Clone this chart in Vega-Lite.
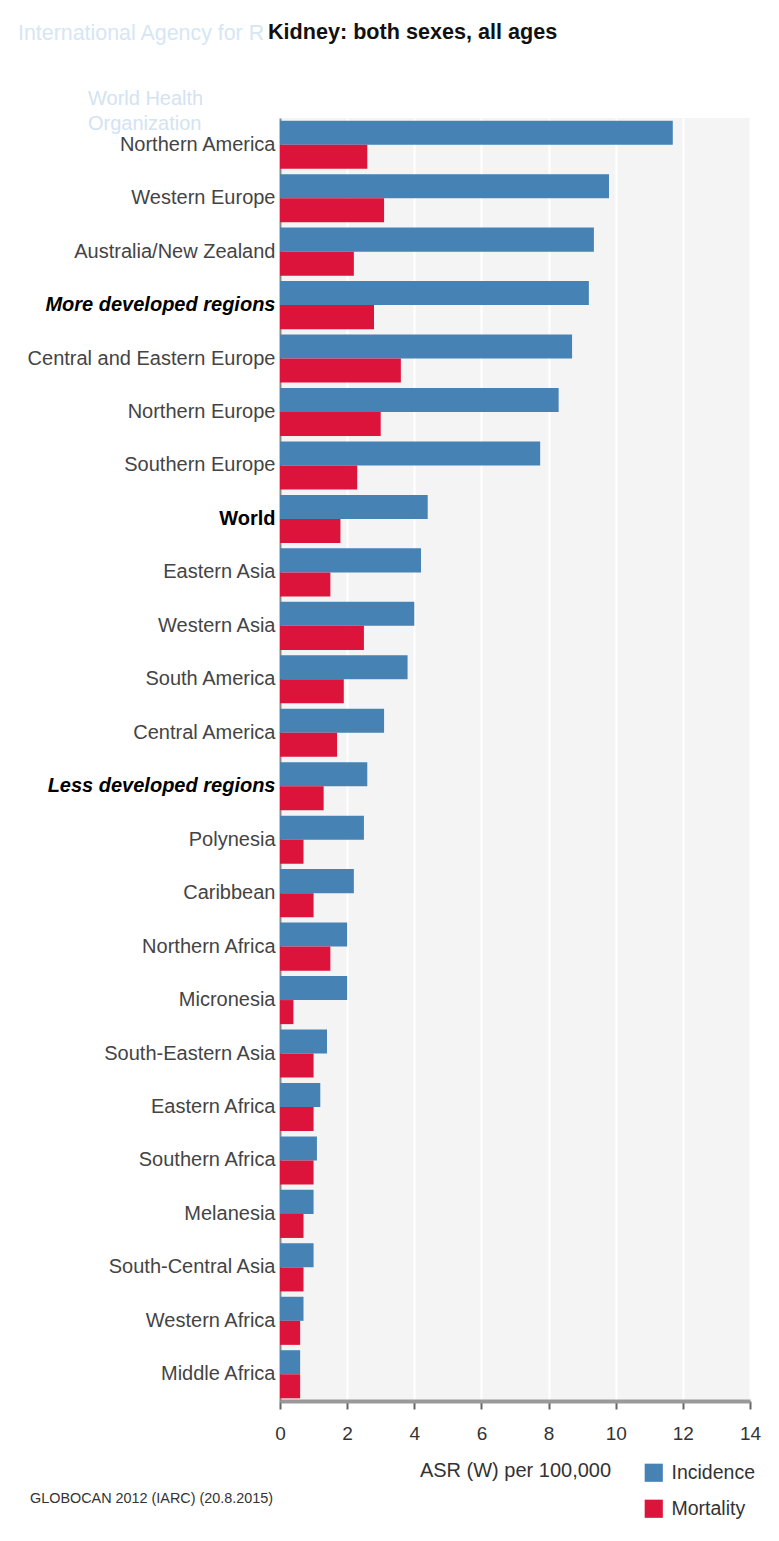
{
  "$schema": "https://vega.github.io/schema/vega-lite/v6.json",
  "padding": {"left": 5, "top": 22, "right": 5, "bottom": 5},
  "background": "white",
  "title": {"text": "International Agency for R", "font": "Liberation Sans", "fontSize": 21.4, "fontWeight": "normal", "color": "#d6e6f4", "anchor": "start", "frame": "bounds", "dx": 13, "offset": -21.6},
  "vconcat": [{
    "title": {"text": "Kidney: both sexes, all ages", "font": "Liberation Sans", "fontSize": 21.6, "fontWeight": "bold", "color": "#111", "anchor": "start", "frame": "bounds", "dx": 263, "offset": 45},
    "vconcat": [{
      "title": {"text": "GLOBOCAN 2012 (IARC) (20.8.2015)", "orient": "bottom", "anchor": "start", "frame": "bounds", "font": "Liberation Sans", "fontSize": 14.4, "fontWeight": "normal", "color": "#333", "offset": 12, "dx": 25},
      "vconcat": [{
        "width": 470,
        "height": 1283,
        "title": {"text": ["World Health", "Organization"], "orient": "top", "anchor": "start", "frame": "bounds", "font": "Liberation Sans", "fontSize": 20, "lineHeight": 25, "fontWeight": "normal", "color": "#d3e3f2", "offset": -16, "dx": 83},
        "data": {"values": [
          {"region": "Northern America", "measure": "Incidence", "value": 11.7},
          {"region": "Northern America", "measure": "Mortality", "value": 2.6},
          {"region": "Western Europe", "measure": "Incidence", "value": 9.8},
          {"region": "Western Europe", "measure": "Mortality", "value": 3.1},
          {"region": "Australia/New Zealand", "measure": "Incidence", "value": 9.35},
          {"region": "Australia/New Zealand", "measure": "Mortality", "value": 2.2},
          {"region": "More developed regions", "measure": "Incidence", "value": 9.2},
          {"region": "More developed regions", "measure": "Mortality", "value": 2.8},
          {"region": "Central and Eastern Europe", "measure": "Incidence", "value": 8.7},
          {"region": "Central and Eastern Europe", "measure": "Mortality", "value": 3.6},
          {"region": "Northern Europe", "measure": "Incidence", "value": 8.3},
          {"region": "Northern Europe", "measure": "Mortality", "value": 3.0},
          {"region": "Southern Europe", "measure": "Incidence", "value": 7.75},
          {"region": "Southern Europe", "measure": "Mortality", "value": 2.3},
          {"region": "World", "measure": "Incidence", "value": 4.4},
          {"region": "World", "measure": "Mortality", "value": 1.8},
          {"region": "Eastern Asia", "measure": "Incidence", "value": 4.2},
          {"region": "Eastern Asia", "measure": "Mortality", "value": 1.5},
          {"region": "Western Asia", "measure": "Incidence", "value": 4.0},
          {"region": "Western Asia", "measure": "Mortality", "value": 2.5},
          {"region": "South America", "measure": "Incidence", "value": 3.8},
          {"region": "South America", "measure": "Mortality", "value": 1.9},
          {"region": "Central America", "measure": "Incidence", "value": 3.1},
          {"region": "Central America", "measure": "Mortality", "value": 1.7},
          {"region": "Less developed regions", "measure": "Incidence", "value": 2.6},
          {"region": "Less developed regions", "measure": "Mortality", "value": 1.3},
          {"region": "Polynesia", "measure": "Incidence", "value": 2.5},
          {"region": "Polynesia", "measure": "Mortality", "value": 0.7},
          {"region": "Caribbean", "measure": "Incidence", "value": 2.2},
          {"region": "Caribbean", "measure": "Mortality", "value": 1.0},
          {"region": "Northern Africa", "measure": "Incidence", "value": 2.0},
          {"region": "Northern Africa", "measure": "Mortality", "value": 1.5},
          {"region": "Micronesia", "measure": "Incidence", "value": 2.0},
          {"region": "Micronesia", "measure": "Mortality", "value": 0.4},
          {"region": "South-Eastern Asia", "measure": "Incidence", "value": 1.4},
          {"region": "South-Eastern Asia", "measure": "Mortality", "value": 1.0},
          {"region": "Eastern Africa", "measure": "Incidence", "value": 1.2},
          {"region": "Eastern Africa", "measure": "Mortality", "value": 1.0},
          {"region": "Southern Africa", "measure": "Incidence", "value": 1.1},
          {"region": "Southern Africa", "measure": "Mortality", "value": 1.0},
          {"region": "Melanesia", "measure": "Incidence", "value": 1.0},
          {"region": "Melanesia", "measure": "Mortality", "value": 0.7},
          {"region": "South-Central Asia", "measure": "Incidence", "value": 1.0},
          {"region": "South-Central Asia", "measure": "Mortality", "value": 0.7},
          {"region": "Western Africa", "measure": "Incidence", "value": 0.7},
          {"region": "Western Africa", "measure": "Mortality", "value": 0.6},
          {"region": "Middle Africa", "measure": "Incidence", "value": 0.6},
          {"region": "Middle Africa", "measure": "Mortality", "value": 0.6}
        ]},
        "mark": {"type": "bar"},
        "encoding": {
          "y": {
            "field": "region", "type": "nominal", "sort": null,
            "scale": {"paddingInner": 0.1, "paddingOuter": 0.05},
            "axis": {
              "title": null, "domainColor": "#888", "domainWidth": 2, "ticks": false,
              "labelPadding": 5, "labelFont": "Liberation Sans", "labelFontSize": 20, "labelLimit": 400,
              "labelColor": {"condition": {"test": "datum.value == 'World' || datum.value == 'More developed regions' || datum.value == 'Less developed regions'", "value": "#000"}, "value": "#444"},
              "labelFontWeight": {"condition": {"test": "datum.value == 'World' || datum.value == 'More developed regions' || datum.value == 'Less developed regions'", "value": "bold"}, "value": "normal"},
              "labelFontStyle": {"condition": {"test": "datum.value == 'More developed regions' || datum.value == 'Less developed regions'", "value": "italic"}, "value": "normal"},
              "minExtent": 275, "maxExtent": 275, "grid": false
            }
          },
          "yOffset": {"field": "measure", "sort": ["Incidence", "Mortality"]},
          "x": {
            "field": "value", "type": "quantitative",
            "scale": {"domain": [0, 14], "nice": false},
            "axis": {
              "title": "ASR (W) per 100,000", "values": [0, 2, 4, 6, 8, 10, 12, 14],
              "domainColor": "#999", "domainWidth": 4, "tickColor": "#666", "tickSize": 8, "tickWidth": 2,
              "labelFont": "Liberation Sans", "labelFontSize": 19, "labelColor": "#333", "labelPadding": 15, "labelFlush": false,
              "titleFont": "Liberation Sans", "titleFontSize": 20, "titleFontWeight": "normal", "titleColor": "#333", "titlePadding": 17,
              "grid": true, "gridColor": "#ffffff", "gridWidth": 2
            }
          },
          "color": {
            "field": "measure", "type": "nominal",
            "scale": {"domain": ["Incidence", "Mortality"], "range": ["#4682b4", "#dc143c"]},
            "legend": {
              "title": null, "orient": "none", "legendX": 364, "legendY": 1345,
              "symbolType": "square", "symbolSize": 330, "symbolStrokeWidth": 0, "symbolOpacity": 1,
              "labelFont": "Liberation Sans", "labelFontSize": 19.5, "labelColor": "#333", "rowPadding": 15, "labelOffset": 8
            }
          }
        }
      }]
    }]
  }],
  "config": {"view": {"fill": "#f4f4f4", "stroke": null}}
}
